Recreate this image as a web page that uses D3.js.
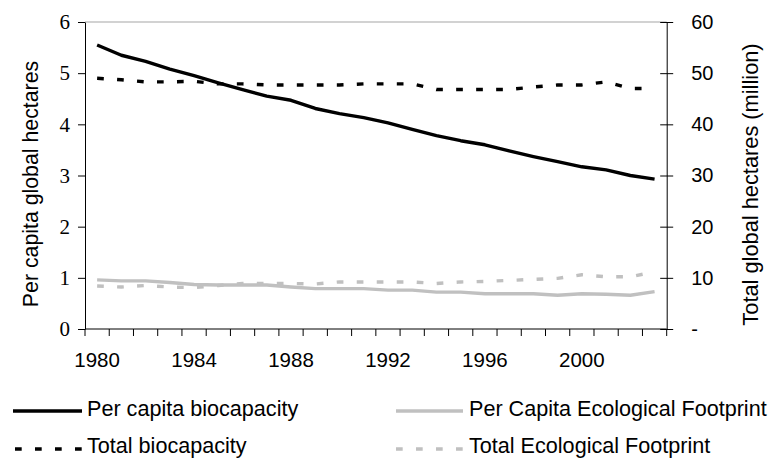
<!DOCTYPE html>
<html>
<head>
<meta charset="utf-8">
<script src="https://cdn.jsdelivr.net/npm/d3@7"></script>
<style>
    body { margin: 0; background: #fff; }
    svg { display: block; }
    .serif-ticks text { font-family: "Times New Roman", "Liberation Serif", "DejaVu Serif", serif !important; }
</style>
</head>
<body>
<div id="chart"></div>
<script>
//Chart data
var years = [1980, 1981, 1982, 1983, 1984, 1985, 1986, 1987, 1988, 1989, 1990, 1991,
             1992, 1993, 1994, 1995, 1996, 1997, 1998, 1999, 2000, 2001, 2002, 2003];
var yearLabels = [1980, 1984, 1988, 1992, 1996, 2000];

//Per capita values (left axis, global hectares)
var perCapitaBiocapacity = [5.55, 5.35, 5.23, 5.08, 4.95, 4.81, 4.68, 4.55, 4.47, 4.31, 4.21, 4.13,
                            4.03, 3.90, 3.78, 3.68, 3.60, 3.48, 3.37, 3.27, 3.17, 3.11, 3.00, 2.93];
var perCapitaFootprint = [0.96, 0.94, 0.94, 0.91, 0.87, 0.86, 0.86, 0.86, 0.82, 0.79, 0.79, 0.79,
                          0.76, 0.76, 0.72, 0.72, 0.69, 0.69, 0.69, 0.66, 0.69, 0.68, 0.66, 0.73];

//Totals (right axis, million global hectares)
var totalBiocapacity = [49.0, 48.7, 48.3, 48.3, 48.4, 47.9, 47.9, 47.7, 47.7, 47.7, 47.7, 47.9,
                        47.9, 47.9, 46.8, 46.8, 46.8, 46.8, 47.3, 47.7, 47.7, 48.3, 47.0, 47.0];
var totalFootprint = [8.4, 8.2, 8.5, 8.2, 8.1, 8.5, 8.9, 8.9, 8.9, 8.8, 9.2, 9.2,
                      9.2, 9.2, 8.9, 9.2, 9.3, 9.5, 9.7, 9.9, 10.6, 10.2, 10.2, 11.2];

var leftTicks = [0, 1, 2, 3, 4, 5, 6];
var rightTicks = [0, 10, 20, 30, 40, 50, 60];

var series = [
    {name: 'Per capita biocapacity', values: perCapitaBiocapacity, axis: 'left', color: '#000', dashed: false},
    {name: 'Per Capita Ecological Footprint', values: perCapitaFootprint, axis: 'left', color: '#c0c0c0', dashed: false},
    {name: 'Total biocapacity', values: totalBiocapacity, axis: 'right', color: '#000', dashed: true},
    {name: 'Total Ecological Footprint', values: totalFootprint, axis: 'right', color: '#c0c0c0', dashed: true}
];

var width = 773;
var height = 458;
var margin = {left: 85, right: 106.3, top: 22, bottom: 129};
var sans = '"Liberation Sans", Arial, sans-serif';

var svg = d3.select('#chart').append('svg')
    .attr('width', width)
    .attr('height', height);

var x = d3.scaleBand()
    .domain(years)
    .range([margin.left, width - margin.right]);

var yLeft = d3.scaleLinear()
    .domain([0, 6])
    .range([height - margin.bottom, margin.top]);

var yRight = d3.scaleLinear()
    .domain([0, 60])
    .range([height - margin.bottom, margin.top]);

var cx = function(d) { return x(d) + x.bandwidth() / 2; };

//Top border of the plot area
svg.append('line')
    .attr('x1', margin.left)
    .attr('x2', width - margin.right)
    .attr('y1', margin.top)
    .attr('y2', margin.top)
    .attr('stroke', '#a6a6a6')
    .attr('stroke-width', 1.2);

//Left axis, serif labels like the original
var leftAxis = svg.append('g')
    .attr('class', 'serif-ticks')
    .attr('transform', 'translate(' + margin.left + ',0)')
    .call(d3.axisLeft(yLeft).tickValues(leftTicks).tickSize(7).tickSizeOuter(0).tickPadding(8)
        .tickFormat(d3.format('d')));
leftAxis.attr('font-size', 21);
leftAxis.selectAll('text').attr('fill', '#000');

//Right axis, ticks cross the line
var rightAxis = svg.append('g')
    .attr('transform', 'translate(' + (width - margin.right) + ',0)')
    .call(d3.axisRight(yRight).tickValues(rightTicks).tickSize(6.5).tickSizeOuter(0).tickPadding(18)
        .tickFormat(function(d) { return d === 0 ? '-' : d; }));
rightAxis.selectAll('.tick line').attr('x1', -6.5);
rightAxis.attr('font-family', sans).attr('font-size', 20);
rightAxis.selectAll('text').attr('fill', '#000');

//Bottom axis, ticks sit between the years
var bottom = svg.append('g')
    .attr('transform', 'translate(0,' + (height - margin.bottom) + ')');
bottom.append('line')
    .attr('x1', margin.left)
    .attr('x2', width - margin.right)
    .attr('stroke', '#000');
bottom.selectAll('.edge')
    .data(years.concat(['end']))
    .enter().append('line')
    .attr('class', 'edge')
    .attr('x1', function(d) { return d === 'end' ? x.range()[1] : x(d); })
    .attr('x2', function(d) { return d === 'end' ? x.range()[1] : x(d); })
    .attr('y2', 7)
    .attr('stroke', '#000');
bottom.selectAll('.label')
    .data(yearLabels)
    .enter().append('text')
    .attr('class', 'label')
    .attr('x', cx)
    .attr('y', 37.5)
    .attr('text-anchor', 'middle')
    .style('font-family', sans)
    .style('font-size', '20.5px')
    .text(function(d) { return d; });

//Axis titles
svg.append('text')
    .attr('transform', 'translate(38,184) rotate(-90)')
    .attr('text-anchor', 'middle')
    .style('font-family', sans)
    .style('font-size', '21.3px')
    .text('Per capita global hectares');

svg.append('text')
    .attr('transform', 'translate(758,184.5) rotate(-90)')
    .attr('text-anchor', 'middle')
    .style('font-family', sans)
    .style('font-size', '21.8px')
    .text('Total global hectares (million)');

//Lines
var lineFor = function(s) {
    var yScale = s.axis === 'left' ? yLeft : yRight;
    return d3.line()
        .x(function(d, i) { return cx(years[i]); })
        .y(function(d) { return yScale(d); });
};

svg.selectAll('.series')
    .data(series)
    .enter().append('path')
    .attr('class', 'series')
    .attr('d', function(s) { return lineFor(s)(s.values); })
    .attr('fill', 'none')
    .attr('stroke', function(s) { return s.color; })
    .attr('stroke-width', 3.4)
    .attr('stroke-linejoin', 'round')
    .attr('stroke-dasharray', function(s) { return s.dashed ? '6.7,13.3' : null; });

//Legend, two columns
var legendPos = [
    {x1: 13, x2: 82, tx: 87, ly: 411, ty: 416},
    {x1: 396, x2: 463, tx: 469, ly: 411, ty: 416},
    {x1: 15, x2: 82, tx: 87, ly: 449, ty: 453},
    {x1: 396, x2: 463, tx: 469, ly: 449, ty: 453}
];

var legend = svg.selectAll('.legend')
    .data(series)
    .enter().append('g')
    .attr('class', 'legend');

legend.append('line')
    .attr('x1', function(s, i) { return legendPos[i].x1; })
    .attr('x2', function(s, i) { return legendPos[i].x2; })
    .attr('y1', function(s, i) { return legendPos[i].ly; })
    .attr('y2', function(s, i) { return legendPos[i].ly; })
    .attr('stroke', function(s) { return s.color; })
    .attr('stroke-width', 3.4)
    .attr('stroke-dasharray', function(s) { return s.dashed ? '6.7,13.3' : null; });

legend.append('text')
    .attr('x', function(s, i) { return legendPos[i].tx; })
    .attr('y', function(s, i) { return legendPos[i].ty; })
    .style('font-family', sans)
    .style('font-size', '21.6px')
    .text(function(s) { return s.name; });
</script>
</body>
</html>
